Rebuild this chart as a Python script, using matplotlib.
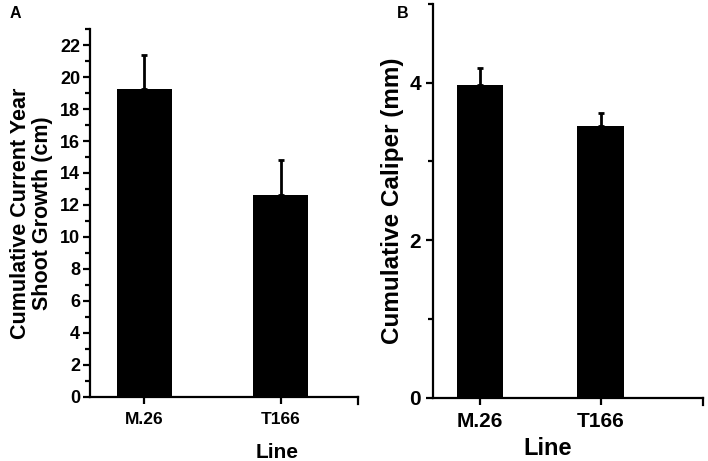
import matplotlib.pyplot as plt
from matplotlib.ticker import MultipleLocator

plt.rcParams['font.family'] = ['Liberation Sans', 'DejaVu Sans']
plt.rcParams['font.weight'] = 'bold'

lines = ['M.26', 'T166']
growth = [19.25, 12.6]
growth_err = [2.15, 2.2]
caliper = [3.97, 3.45]
caliper_err = [0.22, 0.16]

fig = plt.figure(figsize=(7.08, 4.61), dpi=100)

def style_axis(ax, lw=1.6):
    for side in ['top', 'right']:
        ax.spines[side].set_visible(False)
    for side in ['left', 'bottom']:
        ax.spines[side].set_linewidth(lw)
    ax.tick_params(which='major', direction='out', length=5, width=lw)
    ax.tick_params(which='minor', direction='out', length=3.5, width=lw)
    ax.tick_params(axis='x', which='minor', length=0)

# panel A
ax1 = fig.add_axes([0.127, 0.139, 0.3785, 0.798])
x = [0, 1]
ax1.bar(x, growth, width=0.40, color='black')
ax1.errorbar(x, growth, yerr=[[0, 0], growth_err], fmt='none',
             ecolor='black', elinewidth=2, capsize=2.5, capthick=2)
ax1.set_xlim(-0.40, 1.566)
ax1.set_ylim(0, 23)
ax1.yaxis.set_minor_locator(MultipleLocator(1))
ax1.set_xticks(x)
ax1.set_xticklabels(lines, fontsize=12.5, fontweight='bold')
ax1.set_yticks(range(0, 23, 2))
ax1.set_yticklabels([str(v) for v in range(0, 23, 2)], fontsize=13, fontweight='bold')
ax1.tick_params(axis='y', pad=2)
ax1.tick_params(axis='x', pad=6)
style_axis(ax1)
ax1.set_ylabel('Cumulative Current Year\nShoot Growth (cm)', fontsize=15.5,
               fontweight='bold', labelpad=5, linespacing=1.05)
ax1.set_xlabel('Line', fontsize=15, fontweight='bold')
ax1.xaxis.set_label_coords(0.70, -0.125)
fig.text(0.014, 0.988, 'A', fontsize=11.5, fontweight='bold', va='top')

# panel B
ax2 = fig.add_axes([0.6116, 0.1367, 0.381, 0.855])
ax2.bar(x, caliper, width=0.386, color='black')
ax2.errorbar(x, caliper, yerr=[[0, 0], caliper_err], fmt='none',
             ecolor='black', elinewidth=2, capsize=2.5, capthick=2)
ax2.set_xlim(-0.388, 1.843)
ax2.set_ylim(0, 5)
ax2.set_yticks([0, 2, 4])
ax2.set_yticklabels(['0', '2', '4'], fontsize=15, fontweight='bold')
ax2.yaxis.set_minor_locator(MultipleLocator(1))
ax2.set_xticks(x)
ax2.set_xticklabels(lines, fontsize=15, fontweight='bold')
ax2.tick_params(axis='x', pad=5)
style_axis(ax2)
ax2.set_ylabel('Cumulative Caliper (mm)', fontsize=17.5, fontweight='bold', labelpad=4)
ax2.set_xlabel('Line', fontsize=17, fontweight='bold')
ax2.xaxis.set_label_coords(0.425, -0.1)
fig.text(0.561, 0.988, 'B', fontsize=11.5, fontweight='bold', va='top')

# end ticks on right of x axes
for ax in (ax1, ax2):
    ax.plot([1, 1], [0, -0.018], transform=ax.transAxes, color='black',
            lw=1.6, clip_on=False)

fig.savefig('out.png', dpi=100)
